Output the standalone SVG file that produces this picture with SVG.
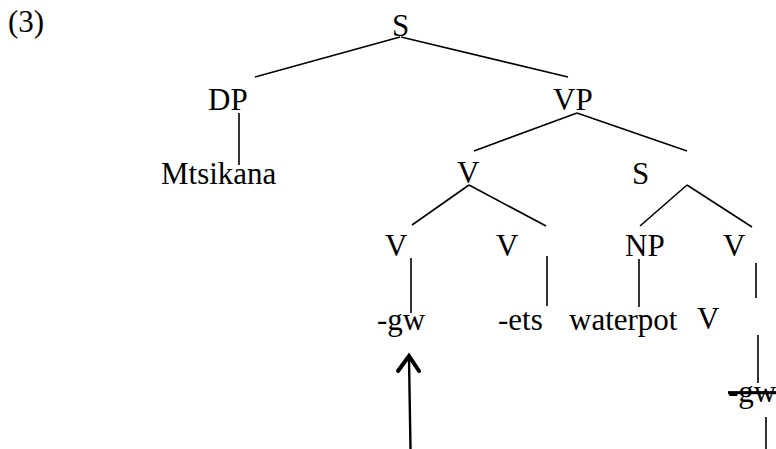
<svg xmlns="http://www.w3.org/2000/svg" width="776" height="449" viewBox="0 0 776 449">
  <style>
    text { font-family: "Liberation Serif", "Times New Roman", serif; font-size: 31px; fill: #000; }
    .edge { stroke: #000; stroke-width: 1.6; fill: none; stroke-linecap: butt; }
    .arrow { stroke: #000; stroke-width: 2.4; fill: none; }
    .head { stroke: #000; stroke-width: 4; fill: none; stroke-linecap: round; stroke-linejoin: miter; }
  </style>
  <rect width="776" height="449" fill="#fff"/>

  <!-- example number -->
  <text id="label" x="8" y="32">(3)</text>

  <!-- tree branches -->
  <g id="connectors">
    <line class="edge" x1="400" y1="37" x2="255" y2="77"/>
    <line class="edge" x1="401" y1="37" x2="568" y2="77"/>
    <line class="edge" x1="239" y1="113" x2="239" y2="165"/>
    <line class="edge" x1="577" y1="113" x2="474" y2="151"/>
    <line class="edge" x1="577" y1="113" x2="687" y2="151"/>
    <line class="edge" x1="469" y1="185" x2="412" y2="225"/>
    <line class="edge" x1="469" y1="185" x2="546" y2="226"/>
    <line class="edge" x1="687" y1="185" x2="640" y2="226"/>
    <line class="edge" x1="687" y1="185" x2="752" y2="227"/>
    <line class="edge" x1="411" y1="258" x2="411" y2="313"/>
    <line class="edge" x1="547" y1="256" x2="547" y2="306"/>
    <line class="edge" x1="639" y1="259" x2="639" y2="307"/>
    <line class="edge" x1="756" y1="263" x2="756" y2="298"/>
    <line class="edge" x1="758" y1="335" x2="758" y2="383"/>
    <line class="edge" x1="766" y1="417" x2="766" y2="449"/>
    <!-- movement arrow -->
    <line class="arrow" x1="410.5" y1="449" x2="409" y2="358"/>
    <polyline class="head" points="398,371 409,356 419,371"/>
  </g>

  <g id="n-S-root"><text x="392" y="36">S</text></g>
  <g id="n-DP"><text x="208" y="110">DP</text></g>
  <g id="n-Mtsikana"><text x="161" y="184">Mtsikana</text></g>
  <g id="n-VP"><text x="553" y="110">VP</text></g>
  <g id="n-V"><text x="457" y="183">V</text></g>
  <g id="n-S"><text x="632" y="184">S</text></g>
  <g id="n-V1"><text x="385" y="256">V</text></g>
  <g id="n-V2"><text x="496" y="256">V</text></g>
  <g id="n-NP"><text x="625" y="256">NP</text></g>
  <g id="n-V3"><text x="723" y="256">V</text></g>
  <g id="n-gw"><text x="377" y="330">-gw</text></g>
  <g id="n-ets"><text x="498" y="330">-ets</text></g>
  <g id="n-waterpot"><text x="569" y="330">waterpot</text></g>
  <g id="n-V4"><text x="697" y="329">V</text></g>
  <g id="n-gw-copy"><text x="728" y="402" text-decoration="line-through">-gw</text></g>
</svg>
